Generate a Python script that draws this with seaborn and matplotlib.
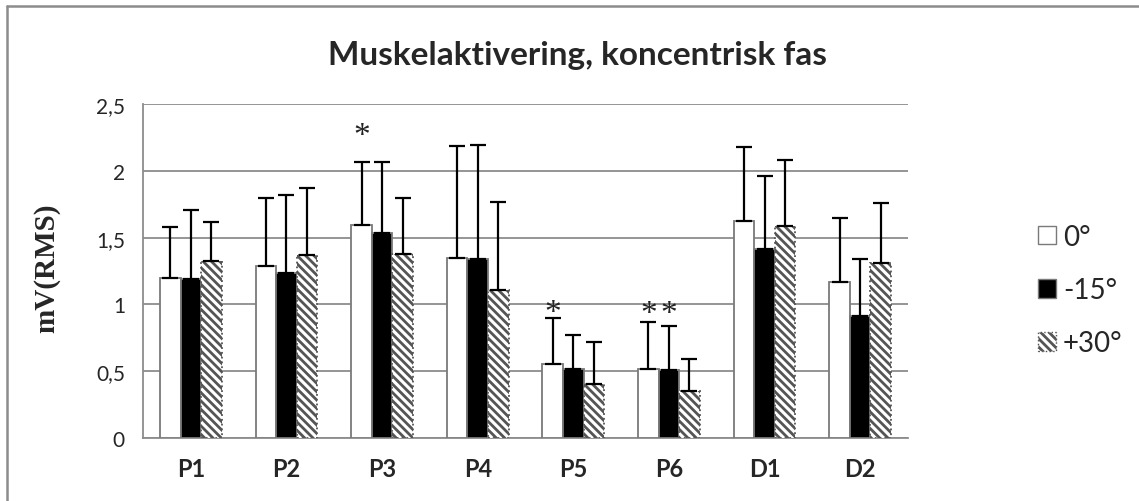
import numpy as np
import pandas as pd
import matplotlib
matplotlib.use("Agg")
import matplotlib.pyplot as plt
import seaborn as sns
from matplotlib.patches import Patch

# data
categories = ["P1", "P2", "P3", "P4", "P5", "P6", "D1", "D2"]
conditions = ["0°", "-15°", "+30°"]
mean_0 = [1.195, 1.287, 1.594, 1.345, 0.551, 0.516, 1.622, 1.17]
mean_m15 = [1.19, 1.232, 1.532, 1.34, 0.514, 0.509, 1.417, 0.91]
mean_p30 = [1.327, 1.367, 1.377, 1.108, 0.407, 0.352, 1.587, 1.31]
top_0 = [1.577, 1.796, 2.063, 2.186, 0.90, 0.866, 2.178, 1.65]
top_m15 = [1.709, 1.819, 2.063, 2.19, 0.771, 0.836, 1.958, 1.34]
top_p30 = [1.614, 1.874, 1.796, 1.764, 0.721, 0.589, 2.083, 1.76]
# significance stars: (category, condition, y)
stars = [("P3", "0°", 2.26), ("P5", "0°", 0.94), ("P6", "0°", 0.93), ("P6", "-15°", 0.93)]

means = [mean_0, mean_m15, mean_p30]
tops = [top_0, top_m15, top_p30]
df = pd.DataFrame({
    "cat": np.tile(categories, 3),
    "cond": np.repeat(conditions, len(categories)),
    "val": np.concatenate(means),
    "top": np.concatenate(tops),
})

sns.set_style("white")
plt.rcParams["font.family"] = ["Lato", "DejaVu Sans"]
plt.rcParams["hatch.linewidth"] = 2.0
plt.rcParams["hatch.color"] = "black"

fig = plt.figure(figsize=(11.39, 5.02), dpi=100)
ax = fig.add_axes([143 / 1139, 1 - 439 / 502, 765 / 1139, 334 / 502])

face = {"0°": "white", "-15°": "black", "+30°": "white"}
sns.barplot(data=df, x="cat", y="val", hue="cond", hue_order=conditions,
            order=categories, palette=face, width=0.645, gap=0,
            errorbar=None, legend=False, ax=ax, zorder=3)

offsets = {c: (i - 1) * 0.215 for i, c in enumerate(conditions)}
for j, cond in enumerate(conditions):
    bars = ax.containers[j]
    for p in bars:
        p.set_linewidth(1.3)
        if cond == "+30°":
            p.set_hatch("\\\\\\\\")
            p.set_edgecolor("#555555")
            p.set_linestyle(":")
        else:
            p.set_edgecolor("#7a7a7a")
    xs = np.arange(len(categories)) + offsets[cond]
    ys = np.array(means[j])
    up = np.array(tops[j]) - ys
    ax.errorbar(xs, ys, yerr=[np.zeros_like(up), up], fmt="none",
                ecolor="black", elinewidth=1.6, capsize=6, capthick=1.6, zorder=4)

for cat, cond, y in stars:
    x = categories.index(cat) + offsets[cond]
    ax.text(x, y, "*", ha="center", va="center", fontsize=24,
            family="Liberation Serif", color="#222222")

ax.set_ylim(0, 2.5)
ax.set_xlim(-0.5, len(categories) - 0.5)
ax.set_yticks(np.arange(0, 2.51, 0.5))
ax.set_yticklabels(["0", "0,5", "1", "1,5", "2", "2,5"], fontsize=15)
ax.yaxis.grid(True, color="#8c8c8c", linewidth=1.3, zorder=0)
ax.set_axisbelow(True)
for s in ["top", "right"]:
    ax.spines[s].set_visible(False)
for s in ["left", "bottom"]:
    ax.spines[s].set_color("#8c8c8c")
    ax.spines[s].set_linewidth(1.3)

# category ticks sit between groups, labels in the middle
ax.set_xticks(np.arange(len(categories) + 1) - 0.5, minor=False)
ax.set_xticklabels([""] * (len(categories) + 1))
ax.set_xticks(np.arange(len(categories)), minor=True)
ax.set_xticklabels(categories, minor=True, fontsize=17, fontweight="bold")
ax.tick_params(axis="x", which="major", length=6, color="#8c8c8c", width=1.3, direction="out")
ax.tick_params(axis="x", which="minor", length=0, pad=14)
ax.tick_params(axis="y", length=5, color="#8c8c8c", width=1.3, direction="out", pad=8)
ax.set_xlabel("")
ax.set_ylabel("mV(RMS)", fontsize=21, fontweight="bold", family="Liberation Serif")
ax.yaxis.set_label_coords((60 - 143) / 765, 0.51)

fig.text(578 / 1139, 1 - 55 / 502, "Muskelaktivering, koncentrisk fas",
         ha="center", va="center", fontsize=24, fontweight="bold")

handles = [Patch(facecolor="white", edgecolor="#7a7a7a"),
           Patch(facecolor="black", edgecolor="#7a7a7a"),
           Patch(facecolor="white", edgecolor="#555555", hatch="\\\\\\\\", linestyle=":")]
fig.legend(handles, conditions, loc="center left", bbox_to_anchor=(1038 / 1139, 1 - 291 / 502),
           frameon=False, fontsize=20, handlelength=0.65, handleheight=0.65,
           handletextpad=0.25, labelspacing=0.98, borderpad=0, borderaxespad=0)

# outer chart frame
fig.add_artist(plt.Line2D([6.5 / 1139, 6.5 / 1139], [0, 1 - 6.5 / 502], color="#8c8c8c", lw=1.8))
fig.add_artist(plt.Line2D([6.5 / 1139, 1], [1 - 6.5 / 502, 1 - 6.5 / 502], color="#8c8c8c", lw=1.8))

fig.savefig("out.png", dpi=100, facecolor="white")
